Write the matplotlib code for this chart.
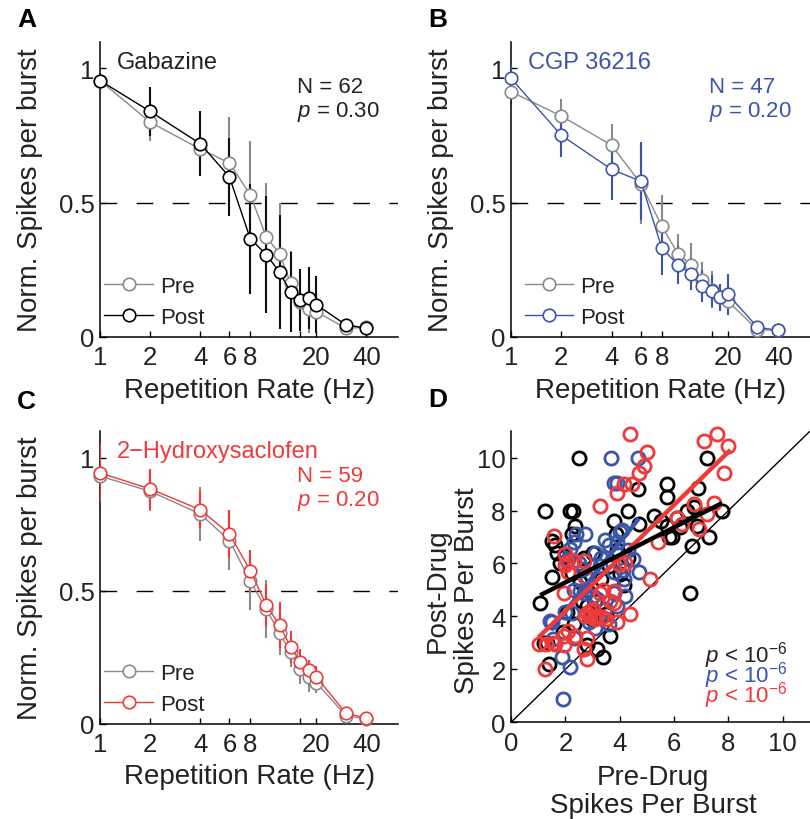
import numpy as np
import matplotlib
matplotlib.use("Agg")
import matplotlib.pyplot as plt

plt.rcParams['font.family'] = ['Liberation Sans', 'DejaVu Sans']
plt.rcParams['mathtext.fontset'] = 'custom'
plt.rcParams['mathtext.rm'] = 'Liberation Sans'
plt.rcParams['mathtext.it'] = 'Liberation Sans:italic'

# Colores
GRIS = '#8a8a8a'
AZUL = '#3b55a8'
ROJO = '#ee3a3a'
TXT = '#222222'

# Frecuencias de repeticion (Hz)
freqs = [1, 2, 4, 6, 8, 10, 12, 14, 16, 18, 20, 30, 40]

# Panel A - Gabazine
a_pre = [0.955, 0.80, 0.70, 0.648, 0.53, 0.372, 0.31, 0.20, 0.13, 0.104, 0.094, 0.032, 0.035]
a_pre_err = [0.03, 0.07, 0.10, 0.17, 0.20, 0.20, 0.19, 0.12, 0.10, 0.09, 0.08, 0.02, 0.02]
a_post = [0.955, 0.84, 0.72, 0.596, 0.366, 0.306, 0.241, 0.167, 0.138, 0.144, 0.12, 0.045, 0.032]
a_post_err = [0.03, 0.09, 0.12, 0.145, 0.205, 0.218, 0.213, 0.15, 0.115, 0.115, 0.107, 0.02, 0.02]

# Panel B - CGP 36216
b_pre = [0.913, 0.823, 0.714, 0.571, 0.413, 0.31, 0.269, 0.21, 0.176, 0.148, 0.132, 0.027, 0.024]
b_pre_err = [0.05, 0.065, 0.08, 0.15, 0.115, 0.075, 0.08, 0.07, 0.07, 0.05, 0.05, 0.02, 0.02]
b_post = [0.963, 0.751, 0.624, 0.58, 0.332, 0.268, 0.233, 0.189, 0.17, 0.148, 0.158, 0.036, 0.024]
b_post_err = [0.05, 0.08, 0.115, 0.145, 0.10, 0.07, 0.06, 0.06, 0.06, 0.05, 0.075, 0.02, 0.02]

# Panel C - 2-Hydroxysaclofen
c_pre = [0.931, 0.874, 0.789, 0.689, 0.537, 0.431, 0.34, 0.27, 0.208, 0.176, 0.155, 0.031, 0.018]
c_pre_err = [0.06, 0.074, 0.10, 0.11, 0.11, 0.11, 0.08, 0.055, 0.06, 0.055, 0.04, 0.01, 0.01]
c_post = [0.943, 0.883, 0.805, 0.714, 0.576, 0.446, 0.371, 0.289, 0.233, 0.201, 0.176, 0.041, 0.021]
c_post_err = [0.11, 0.075, 0.07, 0.09, 0.077, 0.08, 0.087, 0.06, 0.05, 0.04, 0.04, 0.01, 0.01]

# Panel D - espigas por rafaga pre vs post
negro_x = [2.5, 1.25, 2.15, 2.28, 2.36, 2.25, 1.5, 1.6, 1.68, 1.5, 1.07, 1.2, 1.32, 1.38, 2.3, 2.78,
           3.15, 3.37, 3.65, 3.77, 4.3, 4.67, 4.7, 3.87, 2.67, 3.0, 5.25, 5.74, 5.74, 5.74, 5.8, 5.92,
           6.23, 6.47, 6.72, 6.88, 6.84, 7.2, 7.27, 6.66, 6.6, 7.76, 4.0, 4.14, 3.5, 2.8, 2.05, 2.8,
           2.97, 2.24, 2.0, 3.3, 3.6, 2.6, 1.9, 3.1, 4.3, 5.5, 6.1, 3.9, 2.55, 1.8]
negro_y = [10.0, 8.0, 8.0, 8.0, 7.4, 7.1, 6.85, 6.7, 6.4, 5.5, 4.5, 3.0, 3.0, 2.2, 3.7, 2.9,
           2.78, 2.48, 3.27, 7.6, 8.0, 8.8, 7.5, 7.1, 6.2, 6.4, 7.8, 9.0, 8.5, 7.4, 7.0, 7.0,
           7.36, 8.0, 8.15, 8.87, 7.4, 10.0, 7.0, 6.67, 4.9, 8.0, 5.6, 5.2, 4.1, 5.0, 4.15, 4.4,
           3.9, 5.65, 6.3, 5.4, 5.9, 4.6, 3.4, 4.6, 6.2, 7.6, 7.7, 6.5, 5.3, 6.0]
azul_x = [3.67, 4.66, 3.77, 3.9, 2.38, 2.73, 2.17, 2.3, 3.1, 3.46, 3.6, 3.9, 4.0, 4.08, 4.5, 4.7,
          4.14, 3.77, 3.28, 2.3, 2.67, 3.16, 3.46, 3.9, 1.5, 2.0, 2.3, 1.87, 2.17, 1.9, 2.85, 3.1,
          2.79, 2.1, 3.77, 4.2, 3.59, 2.54, 3.03, 2.24, 2.64, 4.13, 1.56, 1.44, 3.3, 4.3, 2.5]
azul_y = [10.0, 10.0, 9.03, 9.03, 7.1, 7.1, 6.54, 6.8, 6.4, 6.9, 6.7, 6.8, 7.17, 7.28, 6.16, 5.66,
          5.4, 5.66, 5.9, 5.0, 4.9, 4.65, 4.27, 4.4, 3.77, 4.15, 3.2, 2.45, 2.08, 0.88, 3.77, 3.58,
          5.5, 6.16, 4.9, 4.77, 3.7, 4.95, 4.77, 4.14, 5.8, 5.77, 3.13, 3.82, 6.2, 6.5, 6.0]
rojo_x = [4.36, 5.0, 4.88, 4.69, 4.45, 4.14, 3.9, 3.28, 1.58, 2.0, 2.05, 2.67, 2.1, 1.93, 2.73, 3.4,
          3.77, 3.65, 3.9, 4.39, 2.73, 2.9, 3.16, 3.35, 3.03, 1.04, 1.3, 1.56, 1.93, 1.93, 2.36, 2.8,
          2.8, 1.25, 3.28, 5.12, 3.96, 6.1, 6.72, 6.9, 7.2, 7.46, 7.09, 7.58, 8.0, 7.83, 2.3, 2.79,
          3.8, 4.2, 3.5, 2.11, 1.6, 2.67, 1.99, 2.9, 3.1, 5.4, 6.3]
rojo_y = [10.9, 10.2, 9.7, 9.43, 9.0, 9.0, 8.68, 8.18, 7.04, 6.35, 6.04, 6.1, 5.66, 4.9, 5.47, 5.0,
          4.97, 4.6, 3.77, 4.09, 4.03, 4.03, 4.03, 3.96, 4.28, 2.96, 2.96, 3.0, 3.27, 2.9, 3.27, 3.2,
          2.39, 2.0, 4.9, 5.4, 5.97, 7.7, 8.24, 7.3, 7.86, 8.3, 10.63, 10.9, 10.44, 9.4, 6.1, 4.14,
          4.5, 6.0, 3.9, 3.45, 2.94, 2.75, 5.96, 4.2, 3.9, 6.8, 7.5]

# Rectas de regresion (extremos x, y)
fit_negro_x = [1.07, 7.76]
fit_negro_y = [4.8, 8.28]
fit_azul_x = [1.46, 4.7]
fit_azul_y = [3.5, 7.7]
fit_rojo_x = [1.0, 8.07]
fit_rojo_y = [3.2, 10.29]

fig = plt.figure(figsize=(8.1, 8.2), dpi=100)


def estilo_ejes(ax):
    for s in ['top', 'right']:
        ax.spines[s].set_visible(False)
    for s in ['left', 'bottom']:
        ax.spines[s].set_linewidth(1.1)
        ax.spines[s].set_color('black')
    ax.tick_params(direction='in', length=4, width=1, labelsize=18.5, colors='black',
                   labelcolor=TXT)
    ax.tick_params(axis='x', pad=6)
    ax.tick_params(axis='y', pad=4)


def panel_curvas(rect, pre, pre_err, post, post_err, color_post, droga, n_txt, p_txt, color_txt):
    ax = fig.add_axes(rect)
    ax.set_xscale('log')
    ax.errorbar(freqs, pre, yerr=pre_err, fmt='none', ecolor=GRIS, elinewidth=1.5, zorder=2, clip_on=True)
    ax.errorbar(freqs, post, yerr=post_err, fmt='none', ecolor='#111111' if color_post == 'black' else color_post,
                elinewidth=1.5, zorder=3, clip_on=True)
    ax.plot(freqs, pre, '-o', color=GRIS, mfc='white', mec=GRIS, ms=9, mew=1.2, lw=1.0,
            label='Pre', zorder=4, clip_on=False)
    ax.plot(freqs, post, '-o', color=color_post, mfc='white', mec=color_post, ms=9, mew=1.2, lw=1.0,
            label='Post', zorder=5, clip_on=False)
    ax.axhline(0.5, color='black', lw=1.0, ls=(0, (12, 14)), zorder=1)
    ax.set_xlim(1, 62)
    ax.set_ylim(0, 1.1)
    ax.set_xticks([1, 2, 4, 6, 8, 16, 20, 40])
    ax.set_xticklabels(['1', '2', '4', '6', '8', '', '20', '40'])
    ax.xaxis.set_minor_locator(matplotlib.ticker.NullLocator())
    ax.set_yticks([0, 0.5, 1])
    ax.set_yticklabels(['0', '0.5', '1'])
    estilo_ejes(ax)
    ax.set_xlabel('Repetition Rate (Hz)', fontsize=20, color=TXT)
    ax.xaxis.set_label_coords(0.5, -0.135)
    ax.xaxis.label.set_va('top')
    ax.set_ylabel('Norm. Spikes per burst', fontsize=20, color=TXT)
    ax.yaxis.set_label_coords(-0.19, 0.5)
    ax.text(0.057, 0.932, droga, transform=ax.transAxes, fontsize=17, color=color_txt,
            ha='left', va='center')
    ax.text(0.661, 0.847, n_txt, transform=ax.transAxes, fontsize=16, color=color_txt,
            ha='left', va='center')
    ax.text(0.661, 0.766, p_txt, transform=ax.transAxes, fontsize=16, color=color_txt,
            ha='left', va='center')
    ax.legend(loc='lower left', bbox_to_anchor=(0.0, 0.015), frameon=False, fontsize=16,
              handlelength=2.2, handletextpad=0.3, labelspacing=0.45, borderpad=0.2,
              borderaxespad=0, numpoints=1, labelcolor=TXT)
    return ax


axA = panel_curvas([0.1235, 0.588, 0.368, 0.360], a_pre, a_pre_err, a_post, a_post_err,
                   'black', 'Gabazine', 'N = 62', r'$p$ = 0.30', TXT)
axB = panel_curvas([0.631, 0.588, 0.369, 0.360], b_pre, b_pre_err, b_post, b_post_err,
                   AZUL, 'CGP 36216', 'N = 47', r'$p$ = 0.20', AZUL)
axC = panel_curvas([0.1235, 0.116, 0.368, 0.357], c_pre, c_pre_err, c_post, c_post_err,
                   ROJO, '2\u2212Hydroxysaclofen', 'N = 59', r'$p$ = 0.20', ROJO)
# ajustar leyenda de B un poco a la derecha
axB.get_legend().set_bbox_to_anchor((0.03, 0.015), transform=axB.transAxes)

# Panel D
axD = fig.add_axes([0.631, 0.118, 0.369, 0.355])
axD.plot([0, 11], [0, 11], color='black', lw=1.0, zorder=1)
axD.plot(negro_x, negro_y, 'o', mfc='none', mec='black', ms=9.5, mew=2.0, zorder=2, clip_on=False)
axD.plot(azul_x, azul_y, 'o', mfc='none', mec=AZUL, ms=9.5, mew=2.0, zorder=3, clip_on=False)
axD.plot(rojo_x, rojo_y, 'o', mfc='none', mec=ROJO, ms=9.5, mew=2.0, zorder=4, clip_on=False)
axD.plot(fit_azul_x, fit_azul_y, color=AZUL, lw=3.2, zorder=5, solid_capstyle='butt')
axD.plot(fit_rojo_x, fit_rojo_y, color=ROJO, lw=3.2, zorder=6, solid_capstyle='butt')
axD.plot(fit_negro_x, fit_negro_y, color='black', lw=3.2, zorder=7, solid_capstyle='butt')
axD.set_xlim(0, 11)
axD.set_ylim(0, 11)
axD.set_xticks([0, 2, 4, 6, 8, 10])
axD.set_yticks([0, 2, 4, 6, 8, 10])
estilo_ejes(axD)
axD.set_xlabel('Pre-Drug\nSpikes Per Burst', fontsize=20, color=TXT, linespacing=1.08)
axD.xaxis.set_label_coords(0.475, -0.144)
axD.xaxis.label.set_va('top')
axD.set_ylabel('Post-Drug\nSpikes Per Burst', fontsize=20, color=TXT, linespacing=1.15)
axD.yaxis.set_label_coords(-0.104, 0.454)
for yy, col in zip([0.234, 0.165, 0.096], [TXT, AZUL, ROJO]):
    axD.text(0.923, yy, r'$p$ < 10$^{-6}$', transform=axD.transAxes,
             fontsize=16, color=col, ha='right', va='center')

# Letras de panel
for letra, x, y in [('A', 0.033, 0.976), ('B', 0.541, 0.976), ('C', 0.033, 0.51), ('D', 0.541, 0.512)]:
    fig.text(x, y, letra, fontsize=19, fontweight='bold', ha='center', va='center')

fig.savefig('out.png', dpi=100)
